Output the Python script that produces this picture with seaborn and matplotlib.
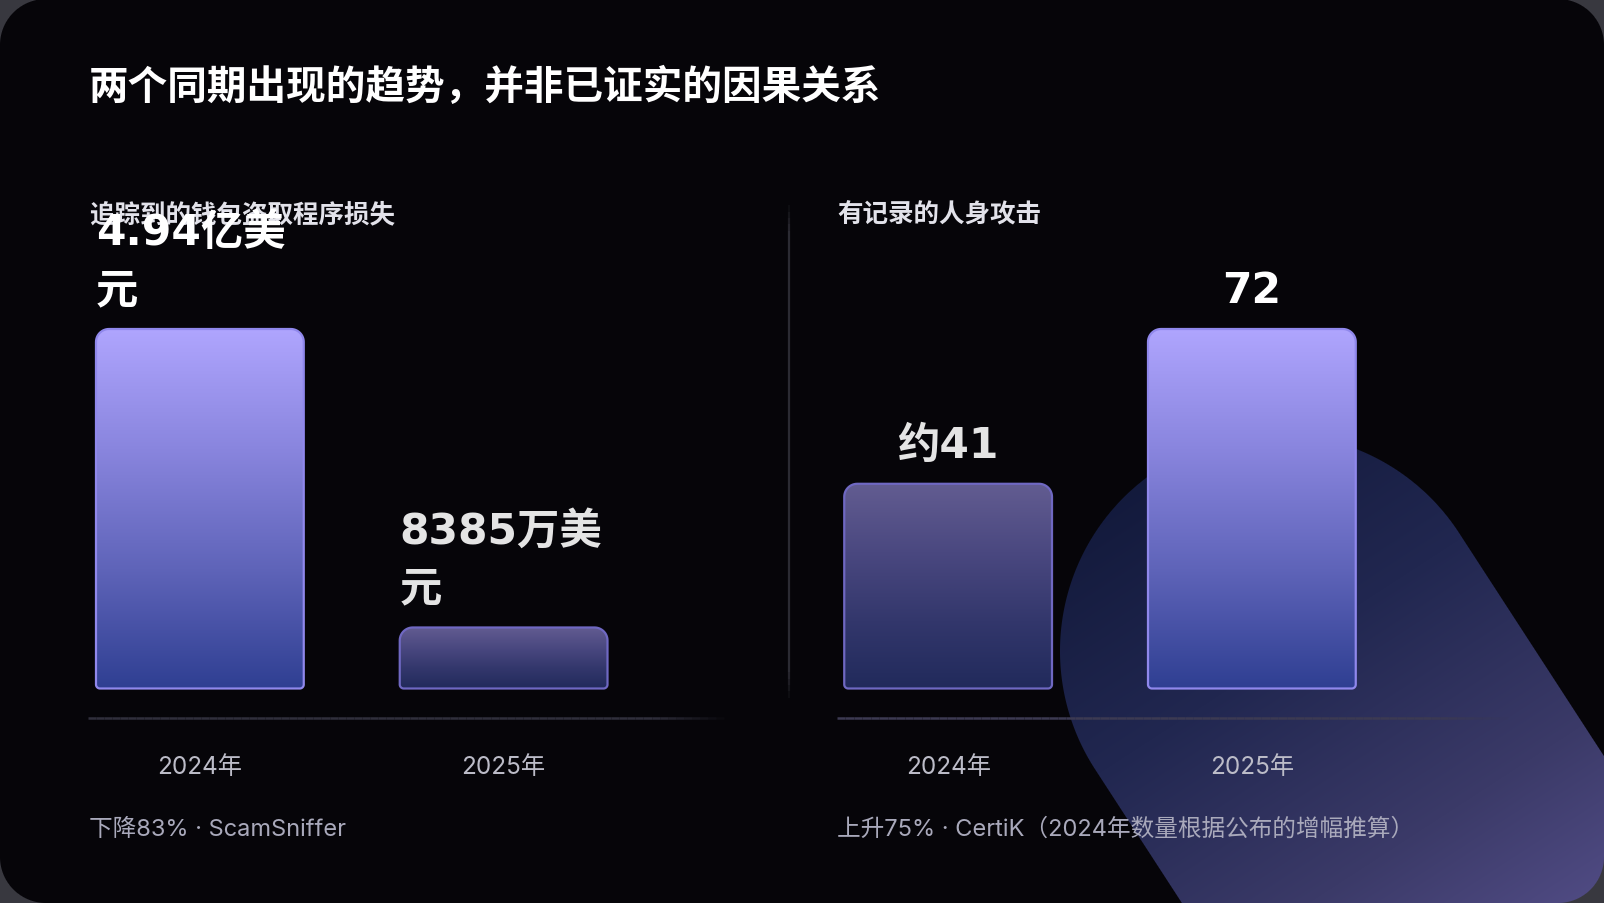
import numpy as np
import pandas as pd
import seaborn as sns
import matplotlib.pyplot as plt
from matplotlib.path import Path
from matplotlib.patches import PathPatch
from matplotlib.collections import LineCollection
from matplotlib.colors import LinearSegmentedColormap, to_rgb
from matplotlib.transforms import IdentityTransform

# ---- data ----
title = "两个同期出现的趋势，并非已证实的因果关系"
years = ["2024年", "2025年"]

wallet_title = "追踪到的钱包盗取程序损失"
wallet_loss = [49400, 8385]  # 万美元
wallet_labels = ["4.94亿美\n元", "8385万美\n元"]
wallet_note = "下降83% · ScamSniffer"

attack_title = "有记录的人身攻击"
attacks = [41, 72]
attack_labels = ["约41", "72"]
attack_note = "上升75% · CertiK（2024年数量根据公布的增幅推算）"

# ---- canvas ----
W, H = 1604, 904
sns.set_theme(style="white")
plt.rcParams['font.family'] = ['Noto Sans CJK SC', 'DejaVu Sans']

fig = plt.figure(figsize=(W / 100, H / 100), dpi=100, facecolor="#38383f")
bg = fig.add_axes([0, 0, 1, 1], zorder=0)
bg.set_xlim(0, W)
bg.set_ylim(H, 0)
bg.set_axis_off()

# panel with rounded corners + the soft purple shape in the lower right
yy, xx = np.mgrid[0:H, 0:W] + 0.5
R = 46
dx = np.maximum(np.maximum(R - xx, xx - (W - R)), 0)
dy = np.maximum(np.maximum(R - yy, yy - (H - R)), 0)
panel_a = np.clip(R - np.hypot(dx, dy) + 0.5, 0, 1)

cx, cy, rr, ang = 1277, 652, 217, np.deg2rad(57)
ux, uy = np.cos(ang), np.sin(ang)
px, py = xx - cx, yy - cy
s = px * ux + py * uy
perp = np.abs(-px * uy + py * ux)
dist = np.where(s < 0, np.hypot(px, py), perp)
blob_a = np.clip(rr - dist + 0.5, 0, 1)[..., None]

t = np.clip((s + rr) / (rr + 420), 0, 1)
stops = [(0.0, "#131a3c"), (0.35, "#212750"), (0.7, "#3b3a68"), (1.0, "#554f8a")]
blob_rgb = np.zeros((H, W, 3))
for k in range(3):
    blob_rgb[..., k] = np.interp(t, [p for p, _ in stops], [to_rgb(c)[k] for _, c in stops])
base = np.array(to_rgb("#060509"))
rgb = base * (1 - blob_a) + blob_rgb * blob_a
img = np.dstack([rgb, panel_a])
bg.imshow(img, extent=(0, W, H, 0), interpolation="none", aspect="auto")


def fade_line(ax, x0, y0, x1, y1, color, lw, fade_in=0.0, fade_out=0.12, n=80):
    xs = np.linspace(x0, x1, n + 1)
    ys = np.linspace(y0, y1, n + 1)
    segs = [[(xs[i], ys[i]), (xs[i + 1], ys[i + 1])] for i in range(n)]
    f = np.linspace(0, 1, n)
    a = np.ones(n)
    if fade_in > 0:
        a = np.minimum(a, f / fade_in)
    if fade_out > 0:
        a = np.minimum(a, (1 - f) / fade_out)
    rgb_ = to_rgb(color)
    cols = [(*rgb_, max(0, min(1, v))) for v in a]
    ax.add_collection(LineCollection(segs, colors=cols, linewidths=lw))


fade_line(bg, 789, 200, 789, 705, "#2b2b33", 1.6, fade_in=0.06, fade_out=0.06)
fade_line(bg, 88, 719, 732, 719, "#302f3c", 1.8)
fade_line(bg, 837, 719, 1516, 719, "#3c3a52", 1.8)

strong_cmap = LinearSegmentedColormap.from_list(
    "strong", ["#afa5fe", "#8985de", "#5f64b9", "#2f3f92"])
dim_cmap = LinearSegmentedColormap.from_list(
    "dim", ["#625c91", "#4a4880", "#33376c", "#212a5b"])


def rounded_path(x0, y0, x1, y1, rt, rb):
    def arc(acx, acy, r, a0, a1):
        a = np.linspace(a0, a1, 14)
        return list(zip(acx + r * np.cos(a), acy + r * np.sin(a)))
    pts = []
    pts += arc(x1 - rb, y0 + rb, rb, -np.pi / 2, 0)
    pts += arc(x1 - rt, y1 - rt, rt, 0, np.pi / 2)
    pts += arc(x0 + rt, y1 - rt, rt, np.pi / 2, np.pi)
    pts += arc(x0 + rb, y0 + rb, rb, np.pi, 1.5 * np.pi)
    pts.append(pts[0])
    return Path(pts, closed=True)


def bar_panel(left_px, values, labels, wrap_left):
    # axes spanning bar bottoms (689.5) up to y=200, category spacing ~304 px
    ax = fig.add_axes([left_px / W, (H - 689.5) / H, 607.5 / W, (689.5 - 200) / H], zorder=2)
    ax.patch.set_alpha(0)
    df = pd.DataFrame({"year": years, "value": values})
    sns.barplot(data=df, x="year", y="value", ax=ax, width=0.684,
                color="#7f7bd4", saturation=1)
    vmax = max(values)
    ax.set_xlim(-0.5, 1.5)
    ax.set_ylim(0, vmax * (689.5 - 200) / (689.5 - 330))
    ax.set_autoscale_on(False)
    ticks = ax.get_xticks()
    ax.set_axis_off()

    for p, val, lab in zip(list(ax.patches), values, labels):
        x0, w, h = p.get_x(), p.get_width(), p.get_height()
        p.set_visible(False)
        strong = val == vmax
        X0, Y0 = ax.transData.transform((x0, 0))
        X1, Y1 = ax.transData.transform((x0 + w, h))
        path = rounded_path(X0, Y0, X1, Y1, 13, 4)
        clip = PathPatch(path, transform=IdentityTransform())
        grad = np.linspace(0, 1, 256).reshape(-1, 1)
        im = ax.imshow(grad, extent=(x0, x0 + w, 0, h), aspect="auto",
                       cmap=strong_cmap if strong else dim_cmap, zorder=3)
        im.set_clip_path(clip)
        edge = PathPatch(path, transform=IdentityTransform(), facecolor="none",
                         edgecolor="#9088ec" if strong else "#6f68c2",
                         linewidth=1.6, zorder=4, clip_on=False)
        ax.add_artist(edge)

        # value label above the bar
        lines = lab.split("\n")
        color = "#ffffff" if strong else "#e4e4e4"
        for j, line in enumerate(reversed(lines)):
            off = (27 + j * 58) * 0.72
            if wrap_left:
                ax.annotate(line, xy=(x0, h), xytext=(0, off), textcoords="offset points",
                            ha="left", va="baseline", fontsize=30.5, fontweight="bold",
                            color=color, family=["DejaVu Sans", "Noto Sans CJK SC"],
                            annotation_clip=False, zorder=5)
            else:
                ax.annotate(line, xy=(x0 + w / 2, h), xytext=(0, off), textcoords="offset points",
                            ha="center", va="baseline", fontsize=30.5, fontweight="bold",
                            color=color, family=["DejaVu Sans", "Noto Sans CJK SC"],
                            annotation_clip=False, zorder=5)

    for tx, yr in zip(ticks, years):
        ax.annotate(yr, xy=(tx, 0), xytext=(0, -78.5 * 0.72), textcoords="offset points",
                    ha="center", va="center", fontsize=17.5, color="#bcbcc8",
                    family=["Inter", "Noto Sans CJK SC"], annotation_clip=False)
    return ax


bar_panel(48, wallet_loss, wallet_labels, wrap_left=True)
bar_panel(796.25, attacks, attack_labels, wrap_left=False)


def ftext(x, y, s_, **kw):
    fig.text(x / W, 1 - y / H, s_, va="center", ha="left", **kw)


ftext(89, 87, title, fontsize=28.5, fontweight="bold", color="#ffffff")
ftext(89, 215, wallet_title, fontsize=18.4, fontweight="bold", color="#e2e2ea", zorder=1)
ftext(837, 215, attack_title, fontsize=18.4, fontweight="bold", color="#e2e2ea")
ftext(89, 830, wallet_note, fontsize=17, color="#a9a9bb", family=["Inter", "Noto Sans CJK SC"])
ftext(837, 830, attack_note, fontsize=17, color="#a9a9bb", family=["Inter", "Noto Sans CJK SC"])

fig.savefig("out.png", dpi=100, facecolor=fig.get_facecolor())
